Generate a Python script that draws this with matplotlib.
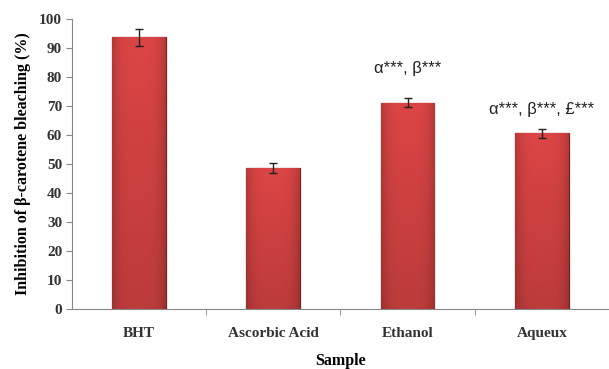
import matplotlib
matplotlib.use("Agg")
import matplotlib.pyplot as plt
import numpy as np

# data
samples = ["BHT", "Ascorbic Acid", "Ethanol", "Aqueux"]
inhibition = [93.5, 48.5, 71.0, 60.5]
errors = [3.0, 1.6, 1.6, 1.5]
signif = ["", "", "α***, β***", "α***, β***, £***"]
signif_y = [0, 0, 82.8, 68.6]

serif = ["Liberation Serif", "DejaVu Serif"]

fig = plt.figure(figsize=(6.09, 3.69), dpi=100)
ax = fig.add_axes([0.118, 0.163, 0.882, 0.7865])

x = np.arange(len(samples))
bars = ax.bar(x, inhibition, width=0.4, color="#C43C3C", edgecolor="#7E1F1F", linewidth=0.9, zorder=2)

# mild shading: lighter at the top, a bit darker toward the sides
gx = np.linspace(0, 1, 64)
gy = np.linspace(0, 1, 64)[:, None]
side = 1 - 0.18 * (2 * np.abs(gx - 0.5)) ** 4
vert = 0.86 + 0.14 * gy
f = side[None, :] * vert
img = np.zeros((64, 64, 3))
img[..., 0] = 0.86 * f
img[..., 1] = 0.27 * f
img[..., 2] = 0.27 * f
for b in bars:
    x0 = b.get_x()
    im = ax.imshow(img, extent=[x0, x0 + b.get_width(), 0, b.get_height()],
                   aspect="auto", origin="lower", zorder=2.1)
    im.set_clip_path(b)

ax.errorbar(x, inhibition, yerr=errors, fmt="none", ecolor="#222222",
            elinewidth=1.0, capsize=3, capthick=1.0, zorder=3)

for i in range(len(samples)):
    if signif[i]:
        ax.text(x[i], signif_y[i], signif[i], ha="center", va="center",
                fontsize=12, family=["Liberation Sans", "DejaVu Sans"], color="#222222")

ax.set_xlim(-0.5, len(samples) - 0.5)
ax.set_ylim(0, 100)
ax.set_yticks(range(0, 101, 10))
ax.set_xticks(x)
ax.set_xticklabels(samples)
ax.set_xticks(np.arange(0.5, len(samples) - 0.5, 1), minor=True)
ax.tick_params(axis="x", which="major", length=0, pad=13)
ax.tick_params(axis="x", which="minor", length=4, color="#888888")
ax.tick_params(axis="y", length=4, color="#888888", pad=3)
for lab in ax.get_xticklabels() + ax.get_yticklabels():
    lab.set_family(serif)
    lab.set_fontweight("bold")
    lab.set_fontsize(11)
    lab.set_color("#333333")

ax.set_xlabel("Sample", family=serif, fontweight="bold", fontsize=11.5, labelpad=9.5)
ax.set_ylabel("Inhibition of β-carotene bleaching (%)", family=serif,
              fontweight="bold", fontsize=11.5, labelpad=6)

for s in ["top", "right"]:
    ax.spines[s].set_visible(False)
ax.spines["left"].set_color("#888888")
ax.spines["bottom"].set_color("#888888")

fig.savefig("out.png", dpi=100)
